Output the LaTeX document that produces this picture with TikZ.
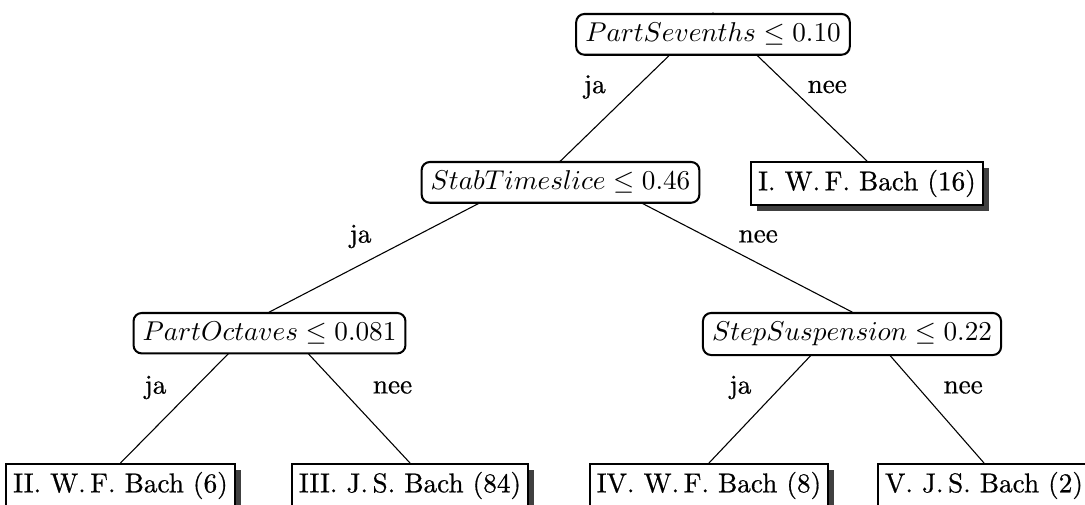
\documentclass[tikz,border=0pt]{standalone}
\usepackage{fontspec}
\setmainfont{Latin Modern Roman}[FakeBold=0.6]
\usetikzlibrary{
  positioning,
  shadows,
  backgrounds,
}

\begin{document}
\begin{tikzpicture}[
  x=0.3676pt,
  y=-0.3676pt,
  line width=0.75pt,
  test/.style={
     rectangle,
     rounded corners=3pt,
     draw,
     fill=white,
     anchor=north,
  },
  leaf/.style={
     rectangle,
     draw,
     fill=white,
     anchor=north,
     inner xsep=2.5pt,
     inner ysep=2.9pt,
     drop shadow={shadow xshift=2.2pt, shadow yshift=-2.2pt, fill=black!75, opacity=1},
  },
  lbl/.style={midway, inner sep=0pt},
]
   \useasboundingbox (0,0) rectangle (1085,505);
   \node[test] (root) at (713,13) {$PartSevenths \le 0.10$};
   \node[test] (stab) at (560.5,161) {$StabTimeslice \le 0.46$};
   \node[leaf] (I) at (867,161) {I. W.\,F. Bach (16)};
   \node[test] (oct) at (269.5,312) {$PartOctaves \le 0.081$};
   \node[test] (susp) at (852,312) {$StepSuspension \le 0.22$};
   \node[leaf] (II) at (120.5,463) {II. W.\,F. Bach (6)};
   \node[leaf] (III) at (410,463) {III. J.\,S. Bach (84)};
   \node[leaf] (IV) at (709,463) {IV. W.\,F. Bach (8)};
   \node[leaf] (V) at (984,463) {V. J.\,S. Bach (2)};
   \begin{scope}[on background layer]
     \draw (root.north) -- node[lbl, left=11.2pt] {ja} (stab.north);
     \draw (root.north) -- node[lbl, right=6.3pt] {nee} (I.north);
     \draw (stab.north) -- node[lbl, left=15.8pt] {ja} (oct.north);
     \draw (stab.north) -- node[lbl, right=11.7pt] {nee} (susp.north);
     \draw (oct.north) -- node[lbl, left=10.3pt] {ja} (II.north);
     \draw (oct.north) -- node[lbl, right=12pt] {nee} (III.north);
     \draw (susp.north) -- node[lbl, left=10.5pt] {ja} (IV.north);
     \draw (susp.north) -- node[lbl, right=9.2pt] {nee} (V.north);
   \end{scope}
\end{tikzpicture}
\end{document}
